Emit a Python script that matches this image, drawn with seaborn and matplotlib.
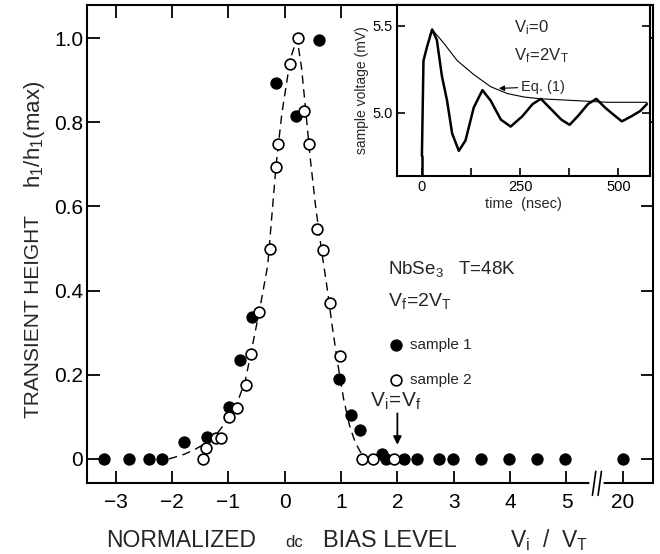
import numpy as np
import matplotlib
matplotlib.use('Agg')
import matplotlib.pyplot as plt
import seaborn as sns

# sample 1 (filled) and sample 2 (open); 20 sits beyond the axis break
s1_x = [-3.2, -2.76, -2.41, -2.17, -1.78, -1.37, -0.98, -0.79, -0.58, -0.16, 0.21, 0.61,
        0.97, 1.17, 1.34, 1.72, 1.80, 2.11, 2.35, 2.74, 2.99, 3.49, 3.98, 4.48, 4.98, 20]
s1_y = [0, 0, 0, 0, 0.041, 0.051, 0.124, 0.236, 0.338, 0.893, 0.815, 0.996,
        0.19, 0.105, 0.069, 0.012, 0, 0, 0, 0, 0, 0, 0, 0, 0, 0]
s2_x = [-1.45, -1.39, -1.21, -1.13, -0.98, -0.85, -0.69, -0.60, -0.45, -0.26, -0.16, -0.11,
        0.09, 0.24, 0.34, 0.43, 0.58, 0.68, 0.81, 0.99, 1.37, 1.57, 1.94]
s2_y = [0, 0.025, 0.049, 0.049, 0.099, 0.122, 0.175, 0.25, 0.349, 0.499, 0.694, 0.749,
        0.939, 1.0, 0.827, 0.749, 0.547, 0.497, 0.371, 0.244, 0, 0, 0]

# dashed guide curve
fit_x = [-2.05, -1.8, -1.6, -1.4, -1.2, -1.0, -0.85, -0.7, -0.6, -0.45, -0.3, -0.15, -0.05,
         0.1, 0.22, 0.3, 0.38, 0.45, 0.55, 0.65, 0.75, 0.85, 0.95, 1.05, 1.15, 1.25, 1.35, 1.45]
fit_y = [0.0, 0.01, 0.022, 0.037, 0.06, 0.095, 0.13, 0.185, 0.25, 0.35, 0.46, 0.70, 0.82,
         0.95, 1.0, 0.93, 0.82, 0.72, 0.6, 0.5, 0.41, 0.31, 0.22, 0.14, 0.08, 0.04, 0.015, 0.0]

x_ticks = [-3, -2, -1, 0, 1, 2, 3, 4, 5, 20]
y_ticks = [0, 0.2, 0.4, 0.6, 0.8, 1.0]

# inset: measured transient and Eq. (1)
t_sig = [0, 4, 13, 26, 38, 51, 64, 77, 94, 111, 132, 154, 175, 201, 226, 256, 282, 303,
         329, 355, 376, 397, 423, 444, 466, 487, 509, 534, 556, 573]
v_sig = [4.75, 5.30, 5.38, 5.48, 5.42, 5.21, 5.07, 4.88, 4.78, 4.84, 5.03, 5.13, 5.07, 4.96,
         4.92, 4.98, 5.05, 5.08, 5.02, 4.96, 4.93, 4.98, 5.05, 5.08, 5.03, 4.99, 4.95, 4.98,
         5.01, 5.05]
t_eq = [26, 56, 90, 132, 175, 218, 261, 303, 389, 474, 573]
v_eq = [5.48, 5.40, 5.30, 5.22, 5.15, 5.11, 5.09, 5.08, 5.07, 5.06, 5.06]


def brk(x):
    # put values past the break (20) right after 5
    x = np.asarray(x, dtype=float)
    return np.where(x > 5.5, x - 14, x)


sns.set_theme(style='ticks')
plt.rcParams['font.family'] = ['Liberation Sans', 'DejaVu Sans']
plt.rcParams['mathtext.fontset'] = 'custom'
plt.rcParams['mathtext.rm'] = 'Liberation Sans'
plt.rcParams['mathtext.it'] = 'Liberation Sans'

fig = plt.figure(figsize=(6.6, 5.54), dpi=100)
ax = fig.add_axes([0.1323, 0.1276, 0.8567, 0.8634])

sns.lineplot(x=fit_x, y=fit_y, ax=ax, color='black', lw=1.0, linestyle=(0, (6, 4)),
             sort=False, zorder=2)
sns.scatterplot(x=brk(s1_x), y=s1_y, ax=ax, color='black', edgecolor='black', s=65,
                linewidth=0.8, label='sample 1', zorder=3)
sns.scatterplot(x=brk(s2_x), y=s2_y, ax=ax, color='white', edgecolor='black', s=60,
                linewidth=1.2, label='sample 2', zorder=4)

ax.set_xlim(-3.5, 6.53)
ax.set_ylim(-0.058, 1.079)
ax.set_xticks(brk(x_ticks))
ax.set_xticklabels([str(v).replace('-', '\u2212') for v in x_ticks])
ax.set_yticks(y_ticks)
ax.set_yticklabels(['0', '0.2', '0.4', '0.6', '0.8', '1.0'])
ax.tick_params(direction='in', length=9, width=1.3, top=True, right=True,
               labelsize=15, colors='black')
ax.tick_params(axis='x', pad=7)
ax.tick_params(axis='y', pad=3)
for sp in ax.spines.values():
    sp.set_linewidth(1.5)
    sp.set_color('black')
ax.set_xlabel('')
ax.set_ylabel('')

# axis break between 5 and 20
tr = ax.get_xaxis_transform()
ax.plot([5.46, 5.62], [0, 0], transform=tr, color='white', lw=4, clip_on=False, zorder=5)
for dx in (-0.05, 0.05):
    ax.plot([5.54 + dx - 0.03, 5.54 + dx + 0.03], [-0.025, 0.025], transform=tr,
            color='black', lw=1.2, clip_on=False, zorder=6)

leg = ax.legend(frameon=False, loc='upper left', bbox_to_anchor=(0.533, 0.303), fontsize=11,
                handletextpad=0.4, labelspacing=1.37, borderaxespad=0, borderpad=0,
                handlelength=1.0)

ax.text(1.83, 0.452, r'$\mathregular{NbSe_3}$   T=48K', fontsize=13.5, va='center')
ax.text(1.83, 0.375, r'$\mathregular{V_f\!=\!2V_T}$', fontsize=14, va='center')
ax.text(1.52, 0.137, r'$\mathregular{V_i\!=\!V_f}$', fontsize=15, va='center')
ax.annotate('', xy=(2.0, 0.027), xytext=(2.0, 0.115),
            arrowprops=dict(arrowstyle='-|>', color='black', lw=1.3, mutation_scale=12))

fig.text(0.051, 0.4296, 'TRANSIENT HEIGHT', rotation=90, ha='center', va='center', fontsize=15)
fig.text(0.053, 0.758, r'$\mathregular{h_1/h_1(max)}$', rotation=90, ha='center', va='center',
         fontsize=16)
fig.text(0.1606, 0.013, 'NORMALIZED', fontsize=16.5, va='baseline')
fig.text(0.432, 0.013, 'dc', fontsize=12, va='baseline')
fig.text(0.489, 0.013, 'BIAS LEVEL', fontsize=17, va='baseline')
fig.text(0.773, 0.013, r'$\mathregular{V_i}$  /  $\mathregular{V_T}$', fontsize=16.5,
         va='baseline')

# inset
axin = fig.add_axes([0.602, 0.6823, 0.383, 0.3087])
axin.set_facecolor('white')
sns.lineplot(x=t_sig, y=v_sig, ax=axin, color='black', lw=1.8, sort=False)
sns.lineplot(x=t_eq, y=v_eq, ax=axin, color='black', lw=0.8, sort=False)
axin.plot([0, 0], [4.635, 4.75], color='black', lw=1.8)
axin.set_xlim(-62.6, 581)
axin.set_ylim(4.635, 5.621)
axin.set_xticks([0, 125, 250, 375, 500])
axin.set_xticklabels(['0', '', '250', '', '500'])
axin.set_yticks([5.0, 5.5])
axin.set_yticklabels(['5.0', '5.5'])
axin.tick_params(direction='in', length=6, width=1.2, right=True, labelsize=10.5, pad=3,
                 colors='black')
for sp in axin.spines.values():
    sp.set_linewidth(1.5)
    sp.set_color('black')
axin.set_xlabel('time  (nsec)', fontsize=10.5, labelpad=2)
axin.set_ylabel('sample voltage (mV)', fontsize=10, labelpad=3)

axin.text(235, 5.49, r'$\mathregular{V_i\!=\!0}$', fontsize=12, va='center')
axin.text(235, 5.33, r'$\mathregular{V_f\!=\!2V_T}$', fontsize=12, va='center')
axin.annotate('Eq. (1)', xy=(196, 5.14), xytext=(252, 5.15), fontsize=10.5, va='center',
              arrowprops=dict(arrowstyle='-|>', color='black', lw=0.8, mutation_scale=8,
                              shrinkA=0, shrinkB=0))

fig.savefig('out.png', dpi=100)
